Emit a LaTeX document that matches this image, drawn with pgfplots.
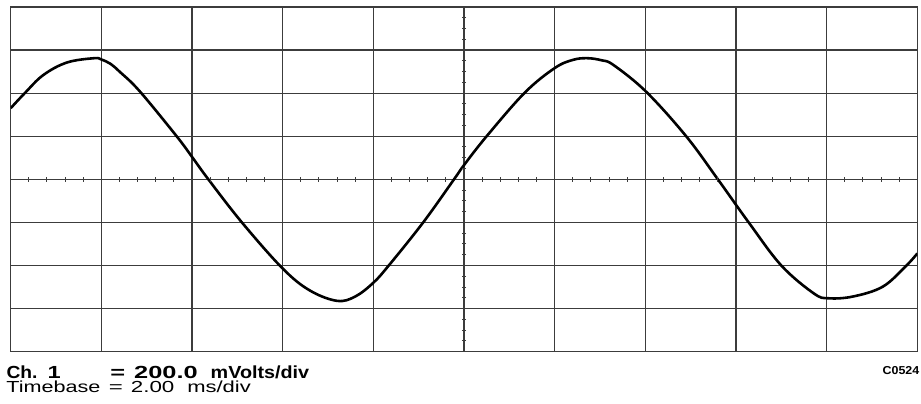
\documentclass[border=0pt]{standalone}
\usepackage{graphicx}
\usepackage{fontspec}
\setmainfont{Liberation Sans}
\usepackage{pgfplots}
\pgfplotsset{compat=1.18}
\definecolor{gridgray}{HTML}{3C3C3C}
\newcommand\wb[2]{\resizebox{#1}{\height}{#2}}
\begin{document}
\begin{tikzpicture}
\begin{axis}[
  at={(0,0)}, anchor=south west,
  scale only axis, width=906.6bp, height=344.8bp,
  xmin=0, xmax=10, ymin=-4, ymax=4,
  xtick={0,1,...,10}, ytick={-4,-3,...,4},
  xticklabels={}, yticklabels={},
  major tick length=0pt, tick style={draw=none},
  grid=major,
  grid style={line width=1.2bp, color=gridgray, solid},
  axis line style={line width=1.2bp, color=gridgray},
]
% centre-line graticule ticks (horizontal line)
\addplot[only marks, mark=|, mark size=2.3bp, mark options={line width=1bp, color=gridgray}] coordinates {
(0.2,0)(0.4,0)(0.6,0)(0.8,0)(1.2,0)(1.4,0)(1.6,0)(1.8,0)
(2.2,0)(2.4,0)(2.6,0)(2.8,0)(3.2,0)(3.4,0)(3.6,0)(3.8,0)
(4.2,0)(4.4,0)(4.6,0)(4.8,0)(5.2,0)(5.4,0)(5.6,0)(5.8,0)
(6.2,0)(6.4,0)(6.6,0)(6.8,0)(7.2,0)(7.4,0)(7.6,0)(7.8,0)
(8.2,0)(8.4,0)(8.6,0)(8.8,0)(9.2,0)(9.4,0)(9.6,0)(9.8,0)
};
% centre-line graticule ticks (vertical line)
\addplot[only marks, mark=-, mark size=2.1bp, mark options={line width=1bp, color=gridgray}] coordinates {
(5,-3.75)(5,-3.5)(5,-3.25)(5,-2.75)(5,-2.5)(5,-2.25)
(5,-1.75)(5,-1.5)(5,-1.25)(5,-0.75)(5,-0.5)(5,-0.25)
(5,0.25)(5,0.5)(5,0.75)(5,1.25)(5,1.5)(5,1.75)
(5,2.25)(5,2.5)(5,2.75)(5,3.25)(5,3.5)(5,3.75)
};
% waveform
\addplot[black, line width=2.6bp, smooth, tension=0.6] coordinates {
(0,1.65)(0.16,2.01)(0.36,2.42)(0.62,2.71)(0.92,2.81)(1.0,2.78)(1.1,2.68)
(1.2,2.50)(1.42,2.05)(1.83,1.0)(2.0,0.52)(2.18,0)(2.55,-1.0)(3.0,-2.07)
(3.3,-2.58)(3.60,-2.82)(3.80,-2.72)(4.0,-2.40)(4.17,-2.0)
(4.55,-1.0)(4.89,0)(5.0,0.33)(5.25,1.0)(5.67,2.01)(6.0,2.58)
(6.20,2.77)(6.36,2.81)(6.52,2.76)(6.65,2.65)(7.01,2.03)(7.45,1.0)(7.80,0)
(8.14,-1.0)(8.50,-2.0)(8.86,-2.65)(9.02,-2.76)(9.29,-2.72)
(9.62,-2.49)(9.88,-2.0)(10,-1.72)
};
\end{axis}
% captions
\begin{scope}[every node/.style={inner sep=0pt, outer sep=0pt, anchor=base west}]
\node at (-4.2bp,-27bp) {\fontsize{17.5bp}{17.5bp}\selectfont\bfseries\wb{31bp}{Ch.}};
\node at (37bp,-27bp) {\fontsize{17.5bp}{17.5bp}\selectfont\bfseries\scalebox{1.35}[1]{1}};
\node at (99.7bp,-27bp) {\fontsize{17.5bp}{17.5bp}\selectfont\bfseries\scalebox{1.45}[1]{=}};
\node at (123.5bp,-27bp) {\fontsize{17.5bp}{17.5bp}\selectfont\bfseries\wb{63.5bp}{200.0}};
\node at (200bp,-27bp) {\fontsize{17.5bp}{17.5bp}\selectfont\bfseries\wb{98.5bp}{mVolts/div}};
\node at (-4.2bp,-40.8bp) {\fontsize{16bp}{16bp}\selectfont\wb{94bp}{Timebase}};
\node at (98.1bp,-40.8bp) {\fontsize{16bp}{16bp}\selectfont\scalebox{1.5}[1]{=}};
\node at (120.2bp,-40.8bp) {\fontsize{16bp}{16bp}\selectfont\wb{43.5bp}{2.00}};
\node at (176.6bp,-40.8bp) {\fontsize{16bp}{16bp}\selectfont\wb{63.5bp}{ms/div}};
\node[anchor=base east] at (908.6bp,-22.6bp) {\fontsize{11.5bp}{11.5bp}\selectfont\bfseries\scalebox{1.08}[1]{C0524}};
\end{scope}
\path[use as bounding box] (-10.7bp,-52.3bp) rectangle (910.3bp,351.7bp);
\end{tikzpicture}
\end{document}
